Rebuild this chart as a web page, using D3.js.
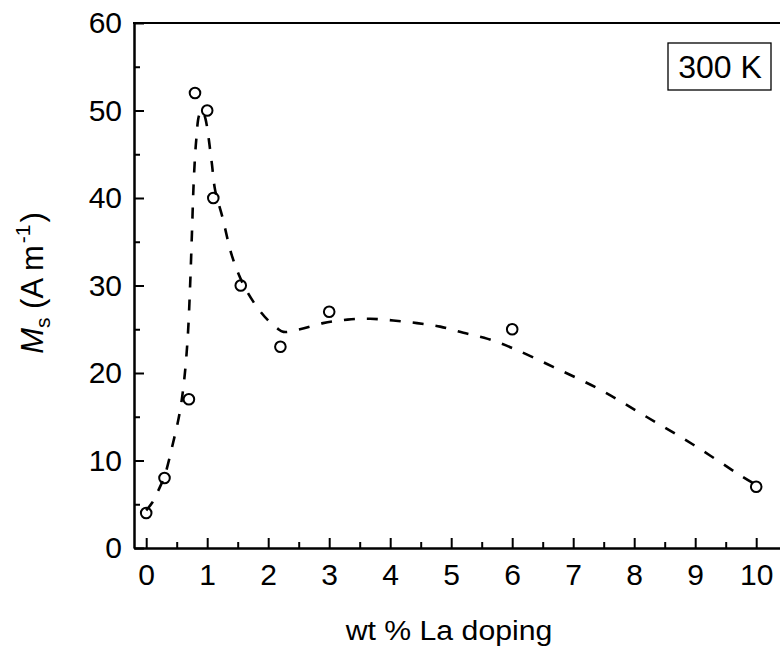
<!DOCTYPE html>
<html><head><meta charset="utf-8">
<script src="https://cdn.jsdelivr.net/npm/d3@7"></script>
<style>body{margin:0;background:#fff}svg{display:block}text{font-family:"Liberation Sans",Arial,sans-serif;fill:#000}</style>
</head><body><svg id="c" width="780" height="649"></svg>
<script>
// measured points: wt % La doping vs Ms
const dopingWt = [0, 0.3, 0.7, 0.8, 1.0, 1.1, 1.55, 2.2, 3, 6, 10];
const msValues = [4, 8, 17, 52, 50, 40, 30, 23, 27, 25, 7];
// dashed guide curve
const curveX = [0, 0.1, 0.2, 0.3, 0.44, 0.55, 0.62, 0.68, 0.72, 0.75, 0.78, 0.82, 0.87, 0.92, 0.97, 1.07, 1.13, 1.25, 1.41, 1.6, 1.82, 2.0, 2.15, 2.25, 2.52, 2.9, 3.3, 3.67, 4.05, 4.44, 4.82, 5.2, 5.6, 6.02, 6.67, 7.44, 8.2, 8.97, 9.74, 10];
const curveY = [4.3, 5.2, 6.6, 8.2, 12, 15.5, 19, 24, 30, 36, 42, 46.6, 49.5, 50, 49.1, 44.3, 40.9, 37.8, 33.3, 30, 27.5, 26, 25.1, 24.7, 25.0, 25.7, 26.1, 26.2, 26.0, 25.7, 25.3, 24.6, 23.9, 22.8, 20.7, 18.1, 15.0, 11.8, 8.3, 7.2];
const xMajor = [0,1,2,3,4,5,6,7,8,9,10];
const xMinor = [0.5,1.5,2.5,3.5,4.5,5.5,6.5,7.5,8.5,9.5];
const yMajor = [0,10,20,30,40,50,60];
const yMinor = [5,15,25,35,45,55];
const xTitle = "wt % La doping";
const tempLabel = "300 K";

const svg = d3.select("#c");
const L = 134, T = 23, B = 548;
const x = d3.scaleLinear().domain([-0.2, 10.5]).range([L, L + 10.7 * 61]);
const y = d3.scaleLinear().domain([0, 60]).range([B, T]);

// axes
const gx = svg.append("g").attr("transform", `translate(0,${B})`)
  .call(d3.axisBottom(x).tickValues(xMajor).tickSize(-10).tickSizeOuter(0).tickPadding(16).tickFormat(d3.format("d")));
svg.append("g").attr("transform", `translate(0,${B})`)
  .call(d3.axisBottom(x).tickValues(xMinor).tickSize(-6).tickSizeOuter(0).tickFormat(""));
const gy = svg.append("g").attr("transform", `translate(${L},0)`)
  .call(d3.axisLeft(y).tickValues(yMajor).tickSize(-10).tickSizeOuter(0).tickPadding(12).tickFormat(d3.format("d")));
svg.append("g").attr("transform", `translate(${L},0)`)
  .call(d3.axisLeft(y).tickValues(yMinor).tickSize(-6).tickSizeOuter(0).tickFormat(""));
svg.selectAll(".domain").attr("stroke", "#000").attr("stroke-width", 2);
svg.selectAll(".tick line").attr("stroke", "#000").attr("stroke-width", 2);
svg.selectAll(".tick text").attr("font-size", 30).attr("font-family", "Liberation Sans, Arial, sans-serif").attr("fill", "#000");
// top frame line
svg.append("line").attr("x1", L - 1).attr("x2", 780).attr("y1", T).attr("y2", T)
  .attr("stroke", "#000").attr("stroke-width", 2);

// dashed curve
const line = d3.line().x(d => x(d[0])).y(d => y(d[1])).curve(d3.curveCatmullRom.alpha(0.5));
svg.append("path").datum(d3.zip(curveX, curveY)).attr("d", line)
  .attr("fill", "none").attr("stroke", "#000").attr("stroke-width", 2.6).attr("stroke-dasharray", "11,12");

// points
svg.append("g").selectAll("circle").data(d3.zip(dopingWt, msValues)).join("circle")
  .attr("cx", d => x(d[0])).attr("cy", d => y(d[1])).attr("r", 5.3)
  .attr("fill", "none").attr("stroke", "#000").attr("stroke-width", 2);

// x title
svg.append("text").attr("transform", `translate(449,640) scale(1.12,1)`)
  .attr("text-anchor", "middle").attr("font-size", 27).text(xTitle);

// y title
const yt = svg.append("text").attr("transform", `translate(43,283) rotate(-90)`)
  .attr("text-anchor", "middle").attr("font-size", 31);
yt.append("tspan").attr("font-style", "italic").text("M");
yt.append("tspan").attr("font-size", 21).attr("dy", 7).text("s");
yt.append("tspan").attr("dy", -7).text(" (A m");
yt.append("tspan").attr("font-size", 21).attr("dy", -13).attr("dx", 2).text("-1");
yt.append("tspan").attr("dy", 13).attr("dx", 2).text(")");

// 300 K box
svg.append("rect").attr("x", 668).attr("y", 43).attr("width", 103).attr("height", 47)
  .attr("fill", "#fff").attr("stroke", "#000").attr("stroke-width", 1.3);
svg.append("text").attr("x", 720).attr("y", 78)
  .attr("text-anchor", "middle").attr("font-size", 32).text(tempLabel);
</script></body></html>
